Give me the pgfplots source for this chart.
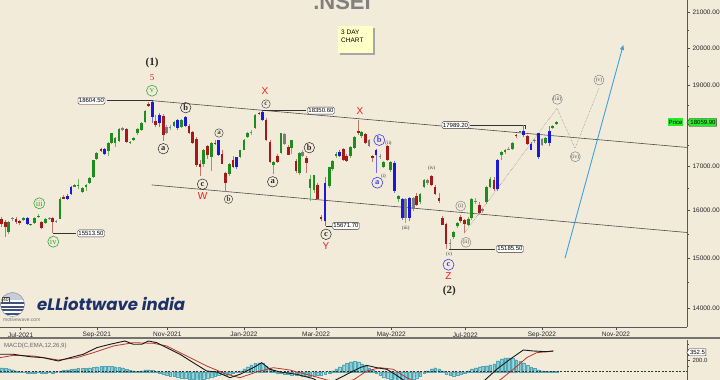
\documentclass[border=0pt]{standalone}
\usepackage{fontspec}
\setmainfont{Liberation Sans}
\newfontfamily\serifb{Liberation Serif}
\newfontfamily\logofont{Poppins}
\usepackage{graphicx}
\usepackage{pgfplots}
\pgfplotsset{compat=1.18}
\usetikzlibrary{arrows.meta,shapes.symbols}
\definecolor{bgc}{RGB}{243,235,218}
\definecolor{cg}{RGB}{30,140,30}
\definecolor{cgw}{RGB}{110,180,100}
\definecolor{cr}{RGB}{165,25,25}
\definecolor{crw}{RGB}{195,120,105}
\definecolor{cb}{RGB}{25,25,215}
\definecolor{cbw}{RGB}{110,110,230}
\definecolor{ck}{RGB}{125,125,125}
\definecolor{ckw}{RGB}{160,160,160}
\definecolor{redl}{RGB}{235,30,30}
\definecolor{grl}{RGB}{50,170,60}
\definecolor{bll}{RGB}{60,60,235}
\definecolor{histc}{RGB}{130,205,215}
\definecolor{histd}{RGB}{85,165,178}
\definecolor{sigc}{RGB}{185,55,45}
\definecolor{arrc}{RGB}{60,160,230}
\definecolor{navy}{RGB}{30,50,105}
\definecolor{pricegreen}{RGB}{40,235,40}
\definecolor{yel}{RGB}{255,255,200}
\tikzset{
 lbl/.style={draw=black!80, fill=white, rounded corners=1.5pt, inner sep=1pt, font=\fontsize{6}{6}\selectfont, line width=0.4pt, minimum height=7pt},
 blk/.style={circle, draw=black!85, line width=0.5pt, inner sep=0pt, minimum size=10.5pt, font=\serifb\bfseries\fontsize{8.5}{8.5}\selectfont, text=black!85},
 blks/.style={circle, draw=black!75, line width=0.45pt, inner sep=0pt, minimum size=8.5pt, font=\serifb\bfseries\fontsize{7}{7}\selectfont, text=black!75},
 grn/.style={circle, draw=grl, line width=0.6pt, inner sep=0pt, minimum size=11pt, font=\serifb\fontsize{8.5}{8.5}\selectfont, text=grl},
 blu/.style={circle, draw=bll, line width=0.6pt, inner sep=0pt, minimum size=11pt, font=\serifb\bfseries\fontsize{8.5}{8.5}\selectfont, text=bll},
 gry/.style={circle, draw=black!50, line width=0.45pt, inner sep=0pt, minimum size=10pt, font=\serifb\fontsize{5.5}{5.5}\selectfont, text=black!70},
 tny/.style={font=\serifb\fontsize{5}{5}\selectfont, text=black!80, inner sep=0pt},
 rl/.style={font=\fontsize{10}{10}\selectfont, text=redl, inner sep=0pt},
}
\begin{document}
\begin{tikzpicture}
\useasboundingbox (0,0) rectangle (720pt,380pt);
\fill[bgc] (0,0) rectangle (720pt,380pt);
\begin{axis}[
 at={(0pt,53pt)}, anchor=south west, scale only axis,
 width=687pt, height=327pt,
 xmin=0, xmax=687, ymode=log, ymin=13645, ymax=21357,
 axis x line*=bottom, axis y line*=right,
 axis line style={draw=black!65, line width=0.7pt, -},
 xtick={20.7,96.8,167.3,244,316,391.3,465.3,542,616},
 xticklabels={Jul-2021,Sep-2021,Nov-2021,Jan-2022,Mar-2022,May-2022,Jul-2022,Sep-2022,Nov-2022},
 ytick={14000,15000,16000,17000,18000,19000,20000,21000},
 yticklabels={14000.00,15000.00,16000.00,17000.00,{},19000.00,20000.00,21000.00},
 minor ytick={14500,15500,16500,17500,18500,19500,20500},
 tick align=outside, major tick length=3pt, minor tick length=1.8pt,
 tick style={black!70, line width=0.5pt},
 ticklabel style={font=\fontsize{6.5}{7}\selectfont, text=black!85},
 /pgf/number format/assume math mode=true,
 yticklabel style={anchor=west, xshift=-1pt},
 xticklabel style={yshift=1pt},
 unbounded coords=jump, clip=true,
]
% trend lines
\addplot[draw=black!70, line width=0.6pt] coordinates {(153,18604.5)(687,17450)};
\addplot[draw=black!70, line width=0.6pt] coordinates {(151.7,16576)(687,15530)};
% projection
\addplot[draw=black!45, densely dotted, line width=0.55pt] coordinates {(464.3,15515)(557,18413)(575,17431)(599.3,18949)};
\addplot[draw=arrc, line width=0.9pt, -{Triangle[length=5pt,width=4pt]}] coordinates {(565,14993)(623.3,20080)};
% label connectors
\addplot[draw=black!80, line width=0.5pt] coordinates {(107,18604.5)(153,18604.5)};
\addplot[draw=black!80, line width=0.5pt] coordinates {(262.3,18350.6)(306,18350.6)};
\addplot[draw=black!80, line width=0.5pt] coordinates {(470,17989.2)(525,17989.2)(525,17900)};
\addplot[draw=black!80, line width=0.5pt] coordinates {(326,15671.7)(332,15671.7)};
\addplot[draw=black!80, line width=0.5pt] coordinates {(52.7,15513.5)(76,15513.5)};
\addplot[draw=black!80, line width=0.5pt] coordinates {(449,15185.5)(495,15185.5)};
% ---------- green candles ----------
\addplot[draw=cgw, line width=0.8pt] coordinates {
(8.5,15780)(8.5,15500)(8.5,nan) (23.3,15860)(23.3,15780)(23.3,nan) (30.7,15720)(30.7,15660)(30.7,nan)
(34.3,15860)(34.3,15720)(34.3,nan) (38.3,15920)(38.3,15840)(38.3,nan) (45.3,15850)(45.3,15720)(45.3,nan)
(60,16300)(60,15810)(60,nan) (74.7,16600)(74.7,16520)(74.7,nan) (78,16700)(78,16480)(78,nan)
(82.7,16520)(82.7,16400)(82.7,nan) (86,16600)(86,16440)(86,nan) (89.3,16760)(89.3,16600)(89.3,nan)
(93.3,17160)(93.3,16740)(93.3,nan) (96.7,17340)(96.7,17150)(96.7,nan) (108.3,17580)(108.3,17250)(108.3,nan)
(111.7,17800)(111.7,17530)(111.7,nan) (115,17690)(115,17450)(115,nan) (119,17920)(119,17580)(119,nan)
(130,17600)(130,17520)(130,nan) (133.3,17700)(133.3,17600)(133.3,nan) (137.3,17910)(137.3,17750)(137.3,nan)
(141.7,18060)(141.7,17860)(141.7,nan) (145,18360)(145,18050)(145,nan) (174,18100)(174,17940)(174,nan)
(181.7,18140)(181.7,17930)(181.7,nan) (203.3,17420)(203.3,17000)(203.3,nan) (211.7,17580)(211.7,16900)(211.7,nan)
(229.3,17080)(229.3,16780)(229.3,nan) (240,17400)(240,17200)(240,nan) (244,17650)(244,17380)(244,nan)
(247.3,17830)(247.3,17680)(247.3,nan) (255,18260)(255,17900)(255,nan) (273.3,17130)(273.3,16836)(273.3,nan)
(281,17800)(281,17300)(281,nan) (291.7,17640)(291.7,17300)(291.7,nan) (299.3,17330)(299.3,16800)(299.3,nan)
(310,16800)(310,16203)(310,nan) (314,16810)(314,16400)(314,nan) (329.3,17000)(329.3,16500)(329.3,nan)
(332.7,17150)(332.7,16900)(332.7,nan) (336,17340)(336,17200)(336,nan) (350.7,17480)(350.7,17200)(350.7,nan)
(354.3,17720)(354.3,17420)(354.3,nan) (361.7,17850)(361.7,17680)(361.7,nan) (383.3,17120)(383.3,16960)(383.3,nan)
(390.7,17130)(390.7,16880)(390.7,nan) (398.3,16340)(398.3,16200)(398.3,nan) (420,16400)(420,16140)(420,nan)
(424,16700)(424,16500)(424,nan) (453.3,15560)(453.3,15400)(453.3,nan) (457.3,15760)(457.3,15620)(457.3,nan)
(468.3,15860)(468.3,15660)(468.3,nan) (471.7,16280)(471.7,15800)(471.7,nan) (486.7,16560)(486.7,16150)(486.7,nan)
(490,16760)(490,16500)(490,nan) (501.7,17360)(501.7,17160)(501.7,nan) (505,17420)(505,17300)(505,nan)
(512.3,17580)(512.3,17380)(512.3,nan) (520,17860)(520,17800)(520,nan) (545.7,17700)(545.7,17530)(545.7,nan)
(552.7,17990)(552.7,17900)(552.7,nan) (556.7,18090)(556.7,18000)(556.7,nan)};
\addplot[draw=cg, line width=2.8pt] coordinates {
(8.5,15540)(8.5,15760)(8.5,nan) (23.3,15800)(23.3,15840)(23.3,nan) (30.7,15690)(30.7,15710)(30.7,nan)
(34.3,15740)(34.3,15840)(34.3,nan) (38.3,15860)(38.3,15890)(38.3,nan) (45.3,15740)(45.3,15830)(45.3,nan)
(60,15830)(60,16270)(60,nan) (74.7,16540)(74.7,16570)(74.7,nan) (78,16560)(78,16580)(78,nan)
(82.7,16420)(82.7,16500)(82.7,nan) (86,16520)(86,16570)(86,nan) (89.3,16630)(89.3,16740)(89.3,nan)
(93.3,16760)(93.3,17150)(93.3,nan) (96.7,17170)(96.7,17320)(96.7,nan) (108.3,17360)(108.3,17550)(108.3,nan)
(111.7,17550)(111.7,17790)(111.7,nan) (115,17550)(115,17670)(115,nan) (119,17600)(119,17900)(119,nan)
(130,17550)(130,17580)(130,nan) (133.3,17630)(133.3,17680)(133.3,nan) (137.3,17790)(137.3,17890)(137.3,nan)
(141.7,17880)(141.7,18050)(141.7,nan) (145,18080)(145,18340)(145,nan) (174,17960)(174,18080)(174,nan)
(181.7,17950)(181.7,18110)(181.7,nan) (203.3,17060)(203.3,17400)(203.3,nan) (211.7,17230)(211.7,17550)(211.7,nan)
(229.3,16820)(229.3,17060)(229.3,nan) (240,17230)(240,17390)(240,nan) (244,17400)(244,17630)(244,nan)
(247.3,17710)(247.3,17800)(247.3,nan) (255,17930)(255,18240)(255,nan) (273.3,17040)(273.3,17110)(273.3,nan)
(281,17320)(281,17790)(281,nan) (291.7,17440)(291.7,17620)(291.7,nan) (299.3,16850)(299.3,17320)(299.3,nan)
(310,16510)(310,16700)(310,nan) (314,16470)(314,16800)(314,nan) (329.3,16550)(329.3,16980)(329.3,nan)
(332.7,16950)(332.7,17120)(332.7,nan) (336,17240)(336,17300)(336,nan) (350.7,17240)(350.7,17460)(350.7,nan)
(354.3,17440)(354.3,17700)(354.3,nan) (361.7,17720)(361.7,17820)(361.7,nan) (383.3,17000)(383.3,17110)(383.3,nan)
(390.7,16920)(390.7,17100)(390.7,nan) (398.3,16250)(398.3,16320)(398.3,nan) (420,16190)(420,16360)(420,nan)
(424,16540)(424,16690)(424,nan) (453.3,15430)(453.3,15550)(453.3,nan) (457.3,15660)(457.3,15740)(457.3,nan)
(468.3,15690)(468.3,15830)(468.3,nan) (471.7,15840)(471.7,16250)(471.7,nan) (486.7,16190)(486.7,16540)(486.7,nan)
(490,16540)(490,16720)(490,nan) (501.7,17260)(501.7,17340)(501.7,nan) (505,17350)(505,17400)(505,nan)
(512.3,17410)(512.3,17560)(512.3,nan) (520,17820)(520,17840)(520,nan) (545.7,17560)(545.7,17670)(545.7,nan)
(552.7,17930)(552.7,17960)(552.7,nan) (556.7,18020)(556.7,18060)(556.7,nan)};
% ---------- red candles ----------
\addplot[draw=crw, line width=0.8pt] coordinates {
(1.7,15870)(1.7,15650)(1.7,nan) (5.5,15790)(5.5,15430)(5.5,nan) (16,15870)(16,15720)(16,nan)
(19.5,15800)(19.5,15700)(19.5,nan) (41.7,15780)(41.7,15600)(41.7,nan) (52.7,15870)(52.7,15513.5)(52.7,nan)
(63.3,16340)(63.3,16250)(63.3,nan) (101,17440)(101,17340)(101,nan) (126.7,17920)(126.7,17560)(126.7,nan)
(148.3,18560)(148.3,18450)(148.3,nan) (155.7,18250)(155.7,17950)(155.7,nan) (163.3,18260)(163.3,17613)(163.3,nan)
(189,18010)(189,17780)(189,nan) (192.3,17850)(192.3,17520)(192.3,nan) (196.7,17700)(196.7,16990)(196.7,nan)
(200,17150)(200,16782)(200,nan) (207.3,17500)(207.3,17180)(207.3,nan) (215,17640)(215,17500)(215,nan)
(222,17380)(222,17050)(222,nan) (225.7,16880)(225.7,16410)(225.7,nan) (233,17240)(233,16960)(233,nan)
(259,18320)(259,18250)(259,nan) (266,18160)(266,17600)(266,nan) (270,17620)(270,17080)(270,nan)
(277.3,17300)(277.3,17080)(277.3,nan) (288.3,17500)(288.3,17260)(288.3,nan) (296,17180)(296,16850)(296,nan)
(306.7,17250)(306.7,16850)(306.7,nan) (317.3,16620)(317.3,16240)(317.3,nan) (321,15900)(321,15780)(321,nan)
(343.3,17440)(343.3,17120)(343.3,nan) (346.7,17300)(346.7,17100)(346.7,nan) (358.3,18114)(358.3,17750)(358.3,nan)
(365.7,17800)(365.7,17520)(365.7,nan) (372.7,17280)(372.7,17110)(372.7,nan) (387.3,17500)(387.3,17130)(387.3,nan)
(416.7,16400)(416.7,16100)(416.7,nan) (431.7,16800)(431.7,16550)(431.7,nan) (435,16580)(435,16340)(435,nan)
(439,16400)(439,16180)(439,nan) (442.7,15880)(442.7,15680)(442.7,nan) (446,15740)(446,15183.4)(446,nan)
(460.7,15900)(460.7,15740)(460.7,nan) (464.7,15820)(464.7,15510)(464.7,nan) (479.3,16200)(479.3,15920)(479.3,nan)
(494,16750)(494,16440)(494,nan) (516,17780)(516,17670)(516,nan) (527.3,17760)(527.3,17500)(527.3,nan)};
\addplot[draw=cr, line width=2.8pt] coordinates {
(1.7,15830)(1.7,15720)(1.7,nan) (5.5,15760)(5.5,15650)(5.5,nan) (16,15830)(16,15760)(16,nan)
(19.5,15780)(19.5,15740)(19.5,nan) (41.7,15750)(41.7,15630)(41.7,nan) (52.7,15840)(52.7,15760)(52.7,nan)
(63.3,16310)(63.3,16270)(63.3,nan) (101,17420)(101,17370)(101,nan) (126.7,17890)(126.7,17590)(126.7,nan)
(148.3,18510)(148.3,18480)(148.3,nan) (155.7,18100)(155.7,17990)(155.7,nan) (163.3,18230)(163.3,17760)(163.3,nan)
(189,17980)(189,17800)(189,nan) (192.3,17830)(192.3,17550)(192.3,nan) (196.7,17650)(196.7,17030)(196.7,nan)
(200,17050)(200,16980)(200,nan) (207.3,17480)(207.3,17260)(207.3,nan) (215,17560)(215,17520)(215,nan)
(222,17300)(222,17060)(222,nan) (225.7,16840)(225.7,16620)(225.7,nan) (233,17160)(233,17000)(233,nan)
(259,18300)(259,18270)(259,nan) (266,18120)(266,17630)(266,nan) (270,17590)(270,17110)(270,nan)
(277.3,17240)(277.3,17110)(277.3,nan) (288.3,17460)(288.3,17280)(288.3,nan) (296,17120)(296,16890)(296,nan)
(306.7,17190)(306.7,17080)(306.7,nan) (317.3,16580)(317.3,16270)(317.3,nan) (321,15870)(321,15830)(321,nan)
(343.3,17410)(343.3,17160)(343.3,nan) (346.7,17240)(346.7,17130)(346.7,nan) (358.3,17850)(358.3,17790)(358.3,nan)
(365.7,17780)(365.7,17560)(365.7,nan) (372.7,17250)(372.7,17200)(372.7,nan) (387.3,17480)(387.3,17150)(387.3,nan)
(416.7,16320)(416.7,16130)(416.7,nan) (431.7,16780)(431.7,16570)(431.7,nan) (435,16520)(435,16370)(435,nan)
(439,16290)(439,16220)(439,nan) (442.7,15840)(442.7,15700)(442.7,nan) (446,15710)(446,15290)(446,nan)
(460.7,15860)(460.7,15770)(460.7,nan) (464.7,15790)(464.7,15720)(464.7,nan) (479.3,16130)(479.3,15950)(479.3,nan)
(494,16690)(494,16480)(494,nan) (516,17760)(516,17730)(516,nan) (527.3,17730)(527.3,17530)(527.3,nan)};
% ---------- blue candles ----------
\addplot[draw=cbw, line width=0.8pt] coordinates {
(27.3,15860)(27.3,15700)(27.3,nan) (67.3,16380)(67.3,16230)(67.3,nan) (71,16560)(71,16350)(71,nan)
(104.3,17440)(104.3,17280)(104.3,nan) (152.3,18604.5)(152.3,18050)(152.3,nan) (159.3,18300)(159.3,17950)(159.3,nan)
(177.7,18150)(177.7,17880)(177.7,nan) (185.3,18210)(185.3,17940)(185.3,nan) (218.3,17640)(218.3,17250)(218.3,nan)
(236.7,17230)(236.7,16940)(236.7,nan) (262.3,18350.95)(262.3,18100)(262.3,nan) (325,16760)(325,15671.7)(325,nan)
(339.3,17380)(339.3,17220)(339.3,nan) (376,17420)(376,16850)(376,nan) (394.3,17130)(394.3,16400)(394.3,nan)
(402.3,16290)(402.3,15800)(402.3,nan) (409.3,16300)(409.3,15780)(409.3,nan) (497.7,17180)(497.7,16440)(497.7,nan)
(523.3,17992)(523.3,17700)(523.3,nan) (531,17580)(531,17380)(531,nan) (538.3,17800)(538.3,17166)(538.3,nan)
(549.3,17960)(549.3,17480)(549.3,nan)};
\addplot[draw=cb, line width=2.8pt] coordinates {
(27.3,15840)(27.3,15720)(27.3,nan) (67.3,16330)(67.3,16260)(67.3,nan) (71,16370)(71,16540)(71,nan)
(104.3,17410)(104.3,17300)(104.3,nan) (152.3,18580)(152.3,18200)(152.3,nan) (159.3,18250)(159.3,18050)(159.3,nan)
(177.7,18110)(177.7,17920)(177.7,nan) (185.3,18200)(185.3,17980)(185.3,nan) (218.3,17630)(218.3,17280)(218.3,nan)
(236.7,16980)(236.7,17220)(236.7,nan) (262.3,18330)(262.3,18120)(262.3,nan) (325,15780)(325,16620)(325,nan)
(339.3,17350)(339.3,17240)(339.3,nan) (376,17260)(376,17400)(376,nan) (394.3,17090)(394.3,16440)(394.3,nan)
(402.3,16250)(402.3,15840)(402.3,nan) (409.3,16280)(409.3,15850)(409.3,nan) (497.7,16480)(497.7,17160)(497.7,nan)
(523.3,17860)(523.3,17760)(523.3,nan) (531,17530)(531,17400)(531,nan) (538.3,17790)(538.3,17230)(538.3,nan)
(549.3,17560)(549.3,17850)(549.3,nan)};
% ---------- gray candles ----------
\addplot[draw=ckw, line width=0.8pt] coordinates {
(12.5,15870)(12.5,15780)(12.5,nan) (49.3,15860)(49.3,15800)(49.3,nan) (56,15800)(56,15740)(56,nan)
(122.7,17950)(122.7,17860)(122.7,nan) (166.7,18000)(166.7,17780)(166.7,nan) (170,18000)(170,17880)(170,nan)
(251,17880)(251,17750)(251,nan) (284.3,17800)(284.3,17500)(284.3,nan) (302.7,17380)(302.7,17220)(302.7,nan)
(369,17650)(369,17460)(369,nan) (380,17300)(380,17180)(380,nan) (405.7,16290)(405.7,15735)(405.7,nan)
(413.3,16300)(413.3,15990)(413.3,nan) (427.3,16720)(427.3,16580)(427.3,nan) (450,15400)(450,15190)(450,nan)
(475.7,16280)(475.7,16140)(475.7,nan) (482.7,16060)(482.7,15950)(482.7,nan) (508.7,17460)(508.7,17380)(508.7,nan)
(534.7,17660)(534.7,17560)(534.7,nan) (542,17680)(542,17480)(542,nan)};
\addplot[draw=ck, line width=2.8pt] coordinates {
(12.5,15820)(12.5,15845)(12.5,nan) (49.3,15820)(49.3,15840)(49.3,nan) (56,15770)(56,15785)(56,nan)
(122.7,17880)(122.7,17910)(122.7,nan) (166.7,17800)(166.7,17950)(166.7,nan) (170,17920)(170,17945)(170,nan)
(251,17800)(251,17830)(251,nan) (284.3,17780)(284.3,17520)(284.3,nan) (302.7,17340)(302.7,17250)(302.7,nan)
(369,17620)(369,17480)(369,nan) (380,17250)(380,17230)(380,nan) (405.7,15850)(405.7,16270)(405.7,nan)
(413.3,16030)(413.3,16280)(413.3,nan) (427.3,16690)(427.3,16620)(427.3,nan) (450,15290)(450,15300)(450,nan)
(475.7,16220)(475.7,16200)(475.7,nan) (482.7,16000)(482.7,16040)(482.7,nan) (508.7,17400)(508.7,17420)(508.7,nan)
(534.7,17600)(534.7,17620)(534.7,nan) (542,17500)(542,17650)(542,nan)};
% value boxes
\node[lbl] at (axis cs:91.5,18604.5) {18604.50};
\node[lbl] at (axis cs:321,18350.6) {18350.60};
\node[lbl] at (axis cs:455.5,17989.2) {17989.20};
\node[lbl] at (axis cs:346,15671.7) {15671.70};
\node[lbl] at (axis cs:91,15513.5) {15513.50};
\node[lbl] at (axis cs:510,15185.5) {15185.50};
\end{axis}

% ---------------- MACD panel ----------------
\begin{axis}[
 at={(0pt,0pt)}, anchor=south west, scale only axis, width=687pt, height=40pt,
 xmin=0, xmax=687, ymin=-151, ymax=577,
 axis x line=none, axis y line*=right,
 axis line style={draw=black!65, line width=0.7pt, -},
 ytick={200}, yticklabels={200.0}, minor ytick={100,300,400,500},
 tick align=outside, major tick length=3pt, minor tick length=1.8pt,
 tick style={black!70, line width=0.5pt},
 ticklabel style={font=\fontsize{6}{6}\selectfont, text=black!85},
 yticklabel style={anchor=west, xshift=-1pt},
 clip=true,
]
\addplot[ybar, bar width=2.6pt, fill=histc, draw=histd, line width=0.2pt] coordinates {
(1.7,73)(5.5,64)(8.5,55)(12.5,36)(16,18)(19.5,-9)(23.3,-15)(27.3,-18)(30.7,-18)(34.3,-18)(38.3,-15)
(41.7,-18)(45.3,-18)(49.3,-15)(52.7,-18)(56,-9)(60,9)(63.3,27)(67.3,36)(71,46)(74.7,55)(78,64)(82.7,64)
(86,64)(89.3,73)(93.3,82)(96.7,91)(101,100)(104.3,100)(108.3,100)(111.7,100)(115,91)(119,82)(122.7,73)
(126.7,46)(130,27)(133.3,18)(137.3,9)(141.7,18)(145,36)(148.3,36)(152.3,27)(155.7,9)(159.3,-18)
(163.3,-46)(166.7,-64)(170,-73)(174,-82)(177.7,-91)(181.7,-109)(185.3,-118)(189,-127)(192.3,-136)
(196.7,-146)(200,-146)(203.3,-127)(207.3,-109)(211.7,-91)(215,-73)(218.3,-55)(222,-36)(225.7,-55)
(229.3,-46)(233,-27)(236.7,-9)(240,18)(244,55)(247.3,91)(251,127)(255,155)(259,164)(262.3,155)(266,109)
(270,73)(273.3,36)(277.3,-18)(281,-27)(284.3,-36)(288.3,-46)(291.7,-55)(296,-64)(299.3,-64)(302.7,-73)
(306.7,-73)(310,-82)(314,-73)(317.3,-64)(321,-55)(325,-36)(329.3,-18)(332.7,18)(336,55)(339.3,91)
(343.3,127)(346.7,155)(350.7,182)(354.3,191)(358.3,182)(361.7,146)(365.7,109)(369,73)(372.7,36)
(376,-18)(380,-55)(383.3,-91)(387.3,-109)(390.7,-127)(394.3,-146)(398.3,-164)(402.3,-164)(405.7,-164)
(409.3,-146)(413.3,-127)(416.7,-109)(420,-73)(424,-18)(427.3,18)(431.7,55)(435,73)(439,55)(442.7,18)
(446,-36)(450,-64)(453.3,-73)(457.3,-64)(460.7,-46)(464.7,-27)(468.3,18)(471.7,55)(475.7,73)(479.3,91)
(482.7,100)(486.7,109)(490,127)(494,146)(497.7,200)(501.7,237)(505,255)(508.7,255)(512.3,246)(516,218)
(520,191)(523.3,164)(527.3,118)(531,82)(534.7,64)(538.3,36)(542,18)(545.7,9)(549.3,9)(552.7,9)(556.7,9)};
\addplot[draw=black!80, dash pattern=on 2pt off 1.5pt, line width=0.5pt] coordinates {(0,0)(687,0)};
\addplot[draw=sigc, line width=0.8pt] coordinates {
(0,255)(13.3,298)(33.3,286)(58.3,213)(76.7,255)(93.3,346)(113.3,468)(133.3,528)(153.3,517)(166.7,468)
(186.7,286)(206.7,104)(226.7,-47)(240,-109)(256.7,-5)(273.3,73)(290,31)(296.7,-5)(313.3,-78)(326.7,-151)
(340,-180)(353.3,-151)(366.7,13)(380,73)(393.3,44)(406.7,-109)(420,-220)(450,-350)(480,-280)(500,-151)
(513.3,44)(526.7,255)(536.7,346)(546.7,364)(553.3,377)};
\addplot[draw=black!90, line width=0.9pt] coordinates {
(0,317)(13.3,317)(30,273)(43.3,255)(58.3,195)(70,255)(83.3,317)(96.7,437)(110,499)(125,559)(133.3,499)
(141.7,499)(148.3,559)(156.7,528)(166.7,437)(180,317)(193.3,164)(206.7,13)(216.7,-5)(230,-109)(240,-47)
(253.3,73)(261.7,164)(270,44)(280,-5)(296.7,-47)(313.3,-127)(325,-250)(338.3,-127)(350,-18)(360,73)
(366.7,116)(376.7,73)(386.7,44)(395,-47)(403.3,-151)(420,-300)(445,-450)(465,-350)(478,-220)(485,-151)
(496.7,44)(510,226)(523.3,395)(533.3,377)(546.7,364)(553.3,377)};
\end{axis}

% ---------------- annotations (pixel frame) ----------------
\begin{scope}[x=1pt,y=-1pt,yshift=380pt]
% title
\node[anchor=base, font=\fontsize{22}{22}\selectfont\bfseries, text=black!50, inner sep=0] at (342,10) {.NSEI};
% 3 day chart box
\fill[black!35] (340,28) rectangle (375,55);
\fill[yel] (338,26) rectangle (373,53);
\node[anchor=north west, align=left, font=\fontsize{6.5}{8}\selectfont, inner sep=0] at (341,29.5) {3 DAY\\CHART};
% separator
\draw[black!55, line width=2pt] (0,337.8) -- (720,337.8);
% MACD title
\node[anchor=west, font=\fontsize{6}{6}\selectfont, text=black!60, inner sep=0] at (4,346) {MACD(C,EMA,12,26,9)};
% price boxes
\node[fill=pricegreen, inner sep=0.8pt, font=\fontsize{6}{6}\selectfont, minimum height=8pt] at (675.5,122.3) {Price};
\node[signal, signal to=west, signal pointer angle=110, draw=black!80, fill=pricegreen, line width=0.4pt, inner sep=0.8pt, font=\fontsize{6}{6}\selectfont, minimum height=8pt] at (703,122.5) {18059.90};
\node[signal, signal to=west, signal pointer angle=110, draw=black!80, fill=white, line width=0.4pt, inner sep=0.8pt, font=\fontsize{6}{6}\selectfont, minimum height=7pt] at (697.5,352.3) {352.5};
% logo
\begin{scope}
\clip (12.5,304.5) circle (12);
\fill[white] (0,290) rectangle (26,318);
\fill[navy!25] (0,290) rectangle (26,300);
\foreach \yy in {302.5,306,309.5,313} {\fill[navy!85] (0,\yy) rectangle (26,\yy+1.6);}
\end{scope}
\draw[navy!60, line width=0.4pt] (12.5,304.5) circle (12);
\node[draw=black!70, fill=white, font=\fontsize{5}{5}\selectfont, inner sep=0.7pt] at (6,300) {40};
\node[anchor=west, text=navy, inner sep=0] at (37,303.5) {\resizebox{148pt}{!}{\logofont\bfseries\itshape eLLiottwave india}};
\node[anchor=west, font=\fontsize{5}{5}\selectfont, text=black!55, inner sep=0] at (3,319.5) {motivewave.com};
% wave labels
\node[font=\serifb\bfseries\fontsize{11}{11}\selectfont, text=black!85] at (152,63.3) {(1)};
\node[font=\serifb\fontsize{9}{9}\selectfont, text=redl] at (152,77.3) {5};
\node[grn] at (152,90.7) {v};
\node[grn] at (39.3,203.3) {iii};
\node[grn] at (53.3,241.7) {iv};
\node[rl] at (265,90.7) {X};
\node[blks] at (266,104) {c};
\node[blk] at (185.7,107.7) {b};
\node[blk] at (163.3,148.7) {a};
\node[blks] at (219,133) {a};
\node[blk] at (202.5,184.2) {c};
\node[rl] at (202.5,196.2) {W};
\node[blks] at (228.5,199.2) {b};
\node[blk] at (272.7,181.8) {a};
\node[blk] at (309.3,147.7) {b};
\node[blk] at (326,234.3) {c};
\node[rl] at (326,246) {Y};
\node[rl] at (360,110.7) {X};
\node[blu] at (379.3,140) {b};
\node[tny] at (388.5,143.5) {(ii)};
\node[blu] at (377.3,182.7) {a};
\node[tny] at (383.5,176.7) {(i)};
\node[tny] at (405.7,228.3) {(iii)};
\node[tny] at (431.7,168.3) {(iv)};
\node[tny] at (449,254) {(v)};
\node[blu] at (448.5,264.7) {c};
\node[rl] at (448.5,276) {Z};
\node[font=\serifb\bfseries\fontsize{11}{11}\selectfont, text=black!85] at (449.3,290.7) {(2)};
\node[gry] at (460.7,206) {(i)};
\node[gry] at (466,242.3) {(ii)};
\node[gry] at (557.3,99.3) {(iii)};
\node[gry] at (575.3,156.7) {(iv)};
\node[gry] at (599,80) {(v)};
\end{scope}
\end{tikzpicture}
\end{document}
